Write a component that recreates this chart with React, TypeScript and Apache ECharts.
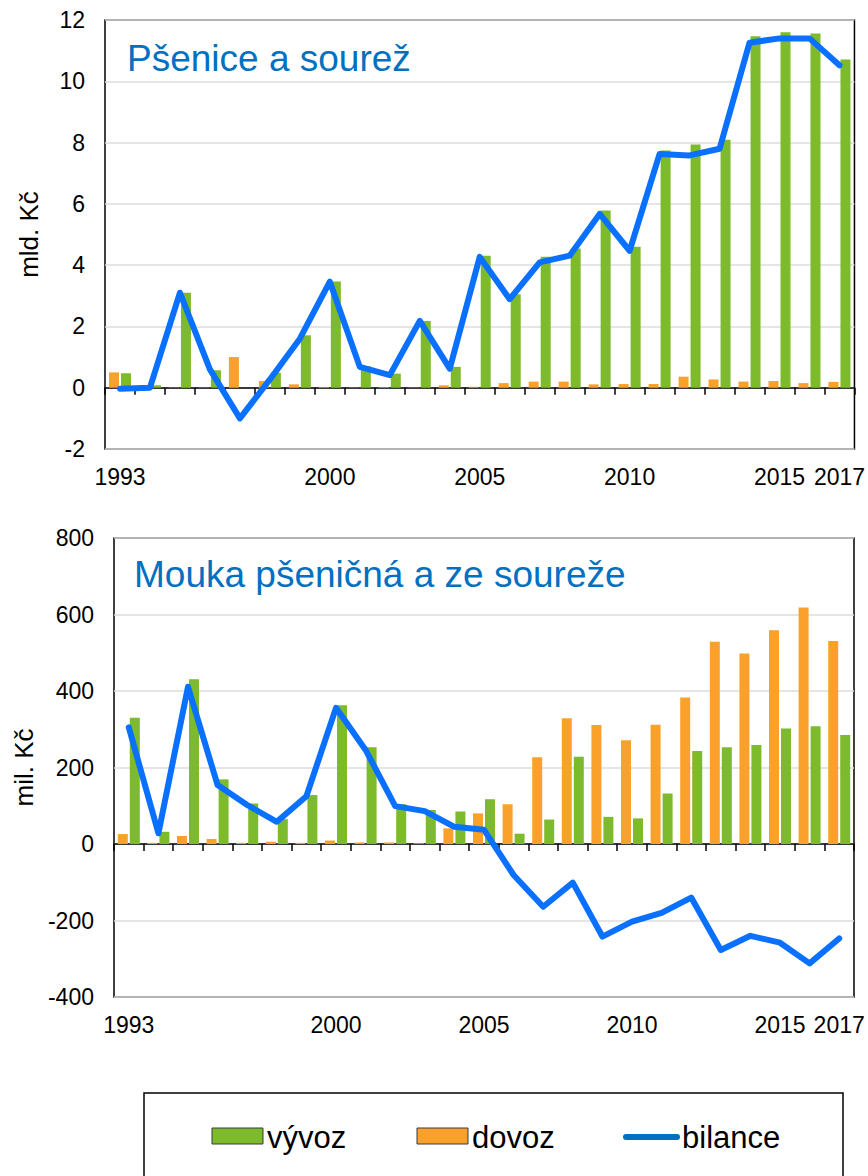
import React, { useEffect, useRef } from "react";
import * as echarts from "echarts";

const years = [
  "1993", "1994", "1995", "1996", "1997", "1998", "1999", "2000", "2001", "2002",
  "2003", "2004", "2005", "2006", "2007", "2008", "2009", "2010", "2011", "2012",
  "2013", "2014", "2015", "2016", "2017",
];
const shownYears = ["1993", "2000", "2005", "2010", "2015", "2017"];

// Pšenice a sourež (mld. Kč)
const wheatExport = [0.47, 0.08, 3.1, 0.57, 0.0, 0.49, 1.71, 3.47, 0.7, 0.46, 2.18, 0.68, 4.31, 3.05, 4.27, 4.54, 5.78, 4.6, 7.74, 7.94, 8.09, 11.47, 11.6, 11.56, 10.71];
const wheatImport = [0.5, 0.07, 0.01, 0.01, 1.0, 0.22, 0.11, 0.02, 0.01, 0.02, 0.01, 0.08, 0.03, 0.15, 0.2, 0.2, 0.11, 0.12, 0.12, 0.36, 0.27, 0.2, 0.22, 0.15, 0.19];
const wheatBalance = [-0.03, 0.0, 3.1, 0.6, -1.0, 0.27, 1.6, 3.46, 0.68, 0.41, 2.18, 0.62, 4.27, 2.89, 4.09, 4.31, 5.67, 4.47, 7.63, 7.58, 7.8, 11.26, 11.4, 11.4, 10.52];

// Mouka pšeničná a ze soureže (mil. Kč)
const flourExport = [330, 32, 431, 169, 106, 65, 128, 363, 253, 104, 89, 85, 117, 27, 64, 228, 71, 67, 132, 243, 253, 259, 302, 308, 285];
const flourImport = [26, 3, 21, 13, 3, 6, 3, 9, 4, 4, 2, 41, 80, 104, 227, 329, 311, 271, 312, 383, 529, 498, 559, 618, 531];
const flourBalance = [305, 28, 411, 154, 102, 58, 125, 356, 246, 99, 86, 45, 37, -81, -164, -101, -242, -203, -180, -140, -277, -240, -258, -312, -247];

const wheatTicks = { min: -2, max: 12, interval: 2 };
const flourTicks = { min: -400, max: 800, interval: 200 };

const titles = ["Pšenice a sourež", "Mouka pšeničná a ze soureže"];
const yNames = ["mld. Kč", "mil. Kč"];
const legendNames = ["vývoz", "dovoz", "bilance"];

const FONT = "Liberation Sans, Arial, sans-serif";
const GREEN = "#7DBA2C";
const ORANGE = "#F9A12B";
const BLUE = "#0A70FF";
const TITLE_BLUE = "#0070C0";

export default function App() {
  const ref = useRef<HTMLDivElement>(null);

  useEffect(() => {
    document.body.style.margin = "0";
    if (!ref.current) return;
    const chart = echarts.init(ref.current, null, { renderer: "svg" });

    const grids = [
      { left: 105, top: 20, width: 752, height: 429 },
      { left: 114, top: 538, width: 740, height: 459 },
    ];

    const xAxes: any[] = [];
    const yAxes: any[] = [];
    [0, 1].forEach((g) => {
      xAxes.push({
        type: "category",
        gridIndex: g,
        data: years,
        position: "bottom",
        axisLine: { onZero: true, lineStyle: { color: "#000", width: 1.5 } },
        axisTick: { show: true, interval: 0, length: 7, lineStyle: { color: "#000", width: 1.5 } },
        axisLabel: { show: false },
        splitLine: { show: false },
      });
      xAxes.push({
        type: "category",
        gridIndex: g,
        data: years,
        position: "bottom",
        axisLine: { show: false, onZero: false },
        axisTick: { show: false },
        axisLabel: {
          show: true,
          interval: (i: number, v: string) => shownYears.includes(v),
          color: "#000",
          fontSize: 23,
          fontFamily: FONT,
          margin: 16,
        },
        splitLine: { show: false },
      });
      const t = g === 0 ? wheatTicks : flourTicks;
      yAxes.push({
        type: "value",
        gridIndex: g,
        min: t.min,
        max: t.max,
        interval: t.interval,
        name: yNames[g],
        nameLocation: "middle",
        nameGap: g === 0 ? 63 : 72,
        nameRotate: 90,
        nameTextStyle: { color: "#000", fontSize: 26, fontFamily: FONT },
        axisLine: { show: false },
        axisTick: { show: false },
        axisLabel: { color: "#000", fontSize: 23, fontFamily: FONT, margin: 20 },
        splitLine: { show: true, lineStyle: { color: "#DCDCDC", width: 1.5 } },
      });
    });

    const mkBars = (g: number, imp: number[], exp: number[], bal: number[]) => [
      {
        name: "dovoz",
        type: "bar",
        xAxisIndex: g * 2,
        yAxisIndex: g,
        data: imp,
        barWidth: 10,
        barGap: "20%",
        itemStyle: { color: ORANGE },
      },
      {
        name: "vývoz",
        type: "bar",
        xAxisIndex: g * 2,
        yAxisIndex: g,
        data: exp,
        barWidth: 10,
        barGap: "20%",
        itemStyle: { color: GREEN },
      },
      {
        name: "bilance",
        type: "line",
        xAxisIndex: g * 2,
        yAxisIndex: g,
        data: bal,
        symbol: "none",
        z: 5,
        lineStyle: { color: BLUE, width: 6, cap: "round", join: "round" },
      },
    ];

    const legendY = 1137;
    chart.setOption({
      animation: false,
      backgroundColor: "#fff",
      textStyle: { fontFamily: FONT },
      grid: grids.map((g) => ({ ...g, show: true, borderColor: "#000", borderWidth: 1.5, backgroundColor: "transparent" })),
      xAxis: xAxes,
      yAxis: yAxes,
      title: [
        { text: titles[0], left: 127, top: 40, padding: 0, textStyle: { color: TITLE_BLUE, fontSize: 37, fontWeight: "normal", fontFamily: FONT } },
        { text: titles[1], left: 134, top: 556, padding: 0, textStyle: { color: TITLE_BLUE, fontSize: 37, fontWeight: "normal", fontFamily: FONT } },
      ],
      series: [
        ...mkBars(0, wheatImport, wheatExport, wheatBalance),
        ...mkBars(1, flourImport, flourExport, flourBalance),
      ],
      graphic: [
        { type: "rect", shape: { x: 144, y: 1093, width: 699, height: 140 }, style: { fill: "#fff", stroke: "#000", lineWidth: 1.5 } },
        { type: "rect", shape: { x: 212, y: 1128, width: 51, height: 16 }, style: { fill: GREEN, stroke: "#3a3a3a", lineWidth: 1 } },
        { type: "text", x: 267, y: legendY, style: { text: legendNames[0], font: `31px ${FONT}`, fill: "#000", verticalAlign: "middle", align: "left" } },
        { type: "rect", shape: { x: 417, y: 1128, width: 51, height: 16 }, style: { fill: ORANGE, stroke: "#3a3a3a", lineWidth: 1 } },
        { type: "text", x: 472, y: legendY, style: { text: legendNames[1], font: `31px ${FONT}`, fill: "#000", verticalAlign: "middle", align: "left" } },
        { type: "line", shape: { x1: 626, y1: 1137, x2: 677, y2: 1137 }, style: { stroke: TITLE_BLUE, lineWidth: 6, lineCap: "round" } },
        { type: "text", x: 682, y: legendY, style: { text: legendNames[2], font: `31px ${FONT}`, fill: "#000", verticalAlign: "middle", align: "left" } },
      ],
    });

    return () => chart.dispose();
  }, []);

  return <div ref={ref} style={{ width: 868, height: 1176 }} />;
}
